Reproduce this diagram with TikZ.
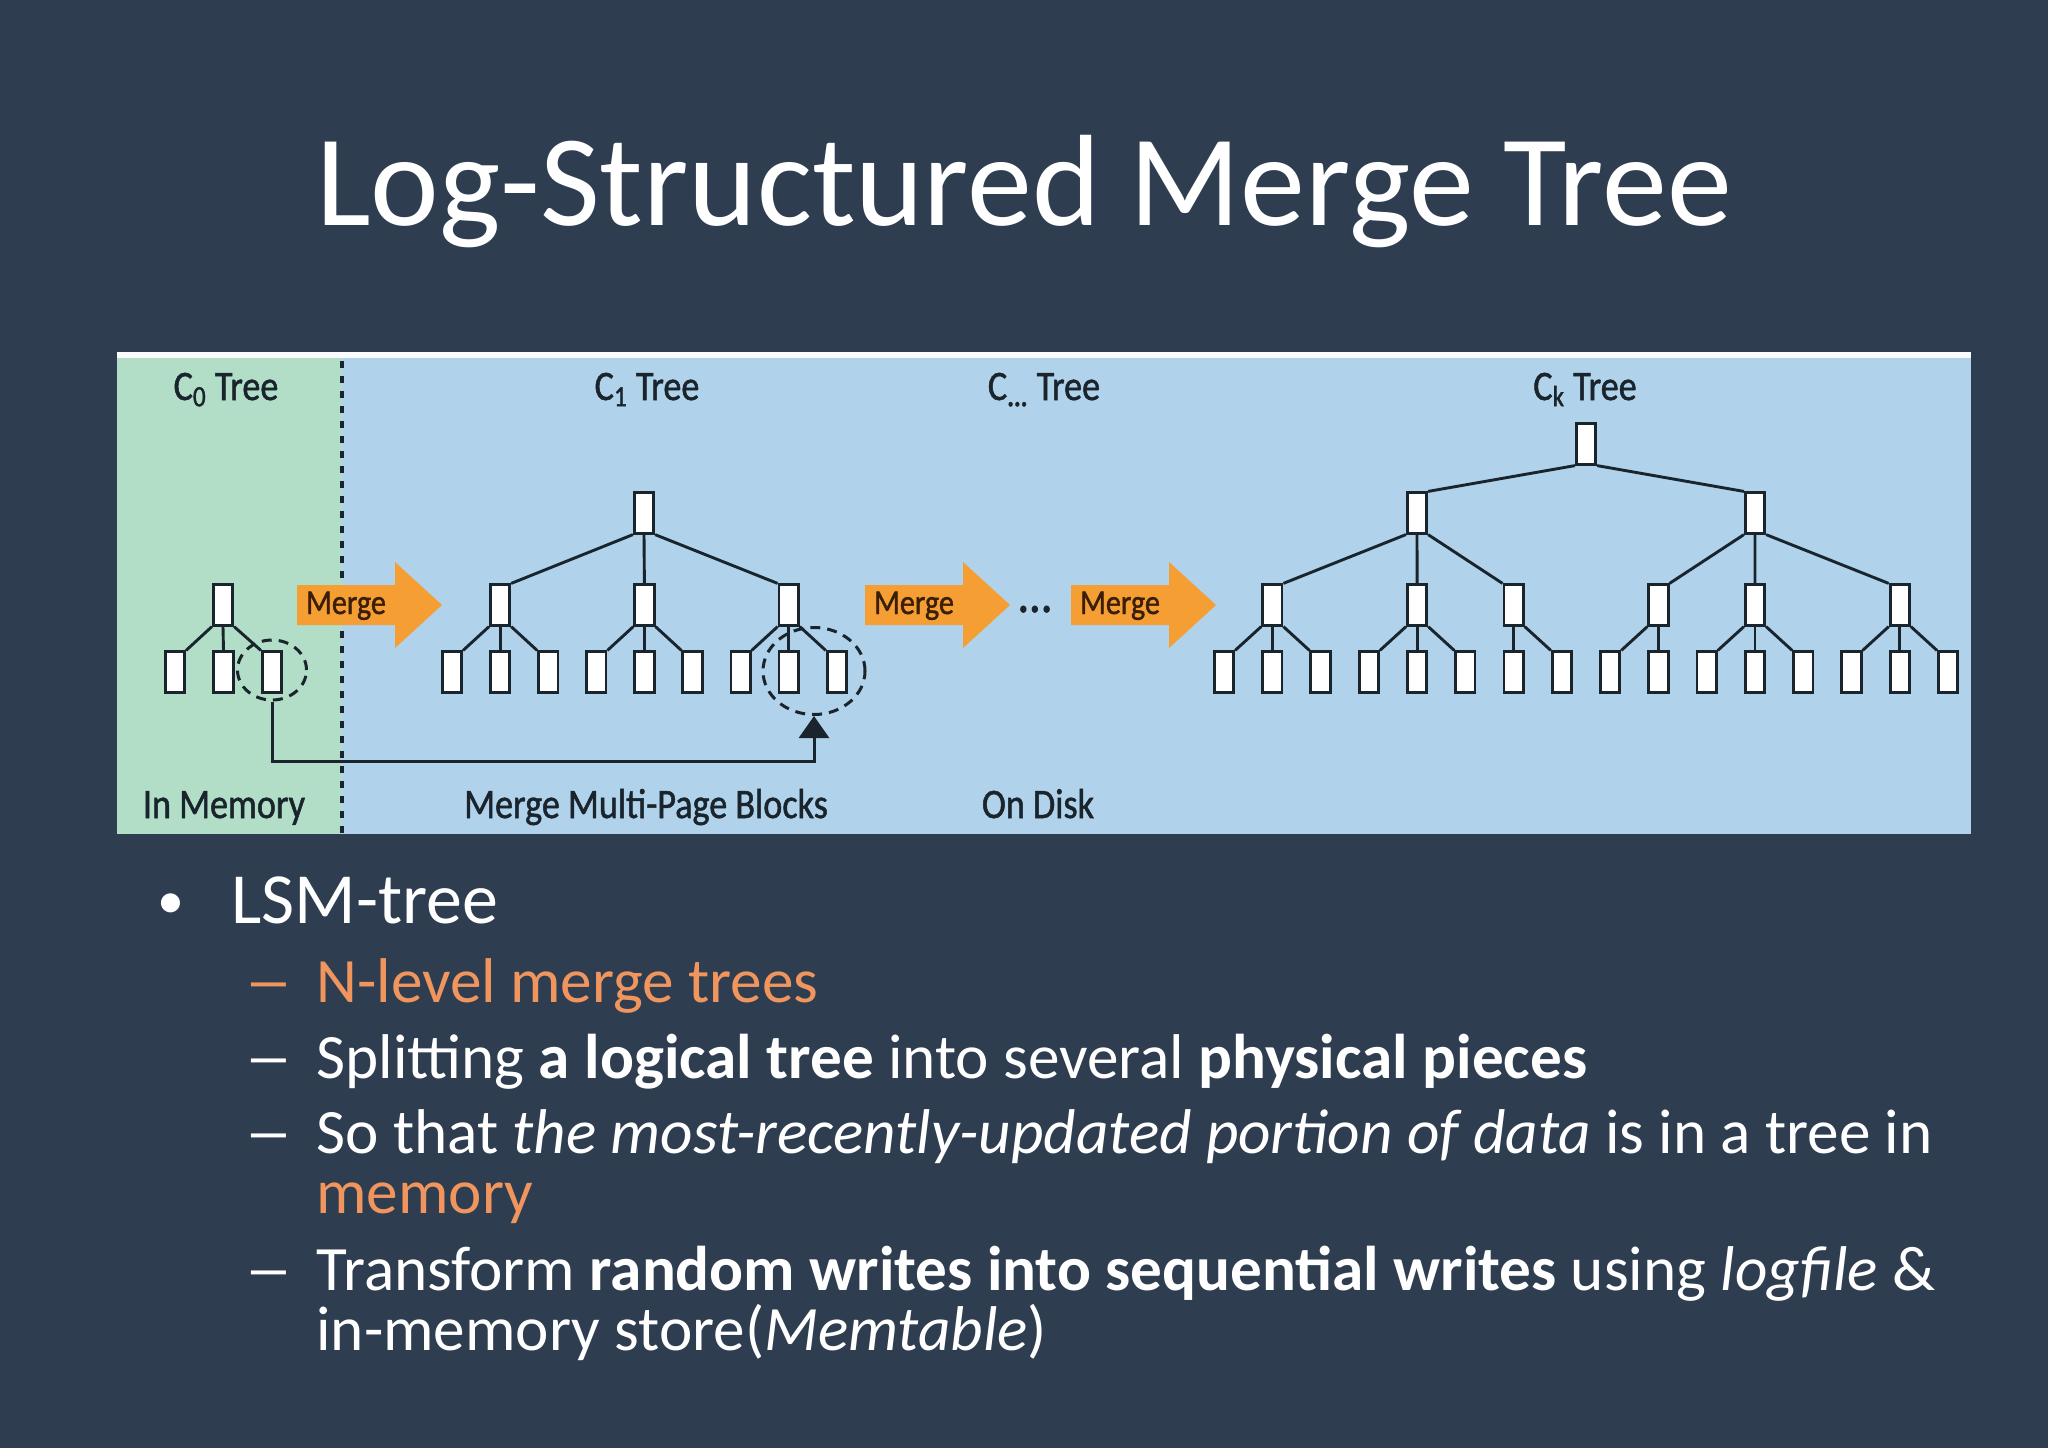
\documentclass[tikz,border=0pt]{standalone}
\usepackage{fontspec}
\setmainfont{Carlito}
\newfontfamily\diagfont{Carlito}[FakeStretch=0.86, FakeBold=1.2]
\usetikzlibrary{arrows.meta,shapes.geometric}
\definecolor{slate}{RGB}{46,62,80}
\definecolor{memgreen}{RGB}{178,222,200}
\definecolor{diskblue}{RGB}{176,210,234}
\definecolor{mergeorange}{RGB}{245,158,52}
\definecolor{accent}{RGB}{241,149,94}
\definecolor{ink}{RGB}{26,36,44}
\definecolor{mergeink}{RGB}{58,30,8}

\begin{document}
\begin{tikzpicture}[x=0.5pt, y=-0.5pt, >={Triangle[width=15pt,length=11pt]}]
        % Styles
        \tikzset{block/.style={rectangle, draw=ink, fill=white, line width=1.4pt, minimum width=9.7pt, minimum height=20.2pt, inner sep=0pt}}
        \tikzset{edge/.style={draw=ink, line width=1.45pt}}
        \tikzset{pick/.style={ellipse, draw=ink, line width=1.5pt, dash pattern=on 5pt off 3.5pt, inner sep=0pt}}
        \tikzset{lbl/.style={font=\diagfont\fontsize{21}{24}\selectfont, text=ink, anchor=base, inner sep=0pt}}
        \tikzset{mergetxt/.style={font=\diagfont\fontsize{17.5}{20}\selectfont, text=mergeink, anchor=base, inner sep=0pt}}
        \tikzset{item/.style={font=\fontsize{31.6}{36}\selectfont, text=white, anchor=base west, inner sep=0pt}}

        % Slide and panel
        \fill[slate] (0,0) rectangle (2048,1448);
        \fill[diskblue] (117,352) rectangle (1971,834);
        \fill[memgreen] (117,358) rectangle (342,834);
        \fill[white!92!diskblue] (117,352) rectangle (1971,358);
        \draw[ink, line width=2pt, dash pattern=on 3.5pt off 4pt] (342,361) -- (342,834);

        % Title
        \node[font=\fontsize{65}{78}\selectfont, text=white, anchor=base] (title) at (1024,225) {Log-Structured Merge Tree};

        % Merge arrows
        \foreach \x/\n in {297/mergea, 865/mergeb, 1071/mergec} {
            \fill[mergeorange] (\x,585) -- (\x+98,585) -- (\x+98,562) -- (\x+145,605)
                -- (\x+98,648) -- (\x+98,625) -- (\x,625) -- cycle;
            \node[mergetxt] (\n) at (\x+49,614) {Merge};
        }
        \node[lbl, font=\diagfont\fontsize{27}{30}\selectfont] (dots) at (1035,612) {\dots};

        % C0 tree
        \node[block] (c0root) at (223,605) {};
        \foreach \i in {0,1,2}
            \node[block] (c0leaf\i) at (175+48.5*\i,672) {};
        \draw[edge] (c0root.south west) -- (c0leaf0.north east);
        \draw[edge] (c0root.south) -- (c0leaf1.north);
        \draw[edge] (c0root.south east) -- (c0leaf2.north west);

        % C1 tree
        \node[block] (c1root) at (644,513) {};
        \foreach \i in {0,...,8}
            \node[block] (c1leaf\i) at (452+48.1*\i,672) {};
        \foreach \m/\i in {0/1,1/4,2/7}
            \node[block] (c1mid\m) at (452+48.1*\i,605) {};
        \draw[edge] (c1root.south west) -- (c1mid0.north east);
        \draw[edge] (c1root.south) -- (c1mid1.north);
        \draw[edge] (c1root.south east) -- (c1mid2.north west);
        \foreach \m/\i in {0/0,1/3,2/6}
            \draw[edge] (c1mid\m.south west) -- (c1leaf\i.north east);
        \foreach \m/\i in {0/1,1/4,2/7}
            \draw[edge] (c1mid\m.south) -- (c1leaf\i.north);
        \foreach \m/\i in {0/2,1/5,2/8}
            \draw[edge] (c1mid\m.south east) -- (c1leaf\i.north west);

        % Ck tree
        \node[block] (ckroot) at (1586,444) {};
        \node[block] (ckupa) at (1417,513) {};
        \node[block] (ckupb) at (1755,513) {};
        \foreach \i in {0,...,15}
            \node[block] (ckleaf\i) at (1224+48.27*\i,672) {};
        \foreach \n/\i in {a/1,b/4,c/6,d/9,e/11,f/14}
            \node[block] (ckmid\n) at (1224+48.27*\i,605) {};
        \draw[edge] (ckroot.south west) -- (ckupa.north east);
        \draw[edge] (ckroot.south east) -- (ckupb.north west);
        \draw[edge] (ckupa.south west) -- (ckmida.north east);
        \draw[edge] (ckupa.south) -- (ckmidb.north);
        \draw[edge] (ckupa.south east) -- (ckmidc.north west);
        \draw[edge] (ckupb.south west) -- (ckmidd.north east);
        \draw[edge] (ckupb.south) -- (ckmide.north);
        \draw[edge] (ckupb.south east) -- (ckmidf.north west);
        \foreach \n/\i in {a/0,b/3,d/8,e/10,f/13}
            \draw[edge] (ckmid\n.south west) -- (ckleaf\i.north east);
        \foreach \n/\i in {a/1,b/4,c/6,d/9,e/11,f/14}
            \draw[edge] (ckmid\n.south) -- (ckleaf\i.north);
        \foreach \n/\i in {a/2,b/5,c/7,e/12,f/15}
            \draw[edge] (ckmid\n.south east) -- (ckleaf\i.north west);

        % Pages moved from C0 into C1
        \node[pick, minimum width=34.5pt, minimum height=30pt] (pick0) at (272,670) {};
        \node[pick, minimum width=51pt, minimum height=43.5pt] (pick1) at (814,671) {};
        \draw[->, ink, line width=1.5pt] (pick0.south) -- ++(0,60) -| (pick1.south);

        % Labels
        \node[lbl] (c0name) at (226,400) {C\textsubscript{0} Tree};
        \node[lbl] (c1name) at (647,400) {C\textsubscript{1} Tree};
        \node[lbl] (cxname) at (1044,400) {C\textsubscript{\textbf{...}} Tree};
        \node[lbl] (ckname) at (1585,400) {C\textsubscript{k} Tree};
        \node[lbl] (memname) at (224,818) {In Memory};
        \node[lbl] (blkname) at (646,818) {Merge Multi-Page Blocks};
        \node[lbl] (diskname) at (1038,818) {On Disk};

        % Bullets
        \node[item, font=\fontsize{27}{32}\selectfont] (dot) at (157,918) {•};
        \node[item, font=\fontsize{36}{43}\selectfont] (lsm) at (231,923) {LSM-tree};
        \foreach \y/\c in {1002/accent,1078/white,1153/white,1290/white}
            \node[item, text=\c] (dash\y) at (244,\y) {\scalebox{1.55}[1]{–}};
        \node[item, text=accent] (nlevel) at (316,1002) {N-level merge trees};
        \node[item] (split) at (316,1078) {Splitting \textbf{a logical tree} into several \textbf{physical pieces}};
        \node[item] (sothat) at (316,1153) {So that \textit{the most-recently-updated portion of data} is in a tree in};
        \node[item, text=accent] (memory) at (316,1213) {memory};
        \node[item] (trans) at (316,1290) {Transform \textbf{random writes into sequential writes} using \textit{logfile} \&};
        \node[item] (store) at (316,1350) {in-memory store(\textit{Memtable})};
\end{tikzpicture}
\end{document}
